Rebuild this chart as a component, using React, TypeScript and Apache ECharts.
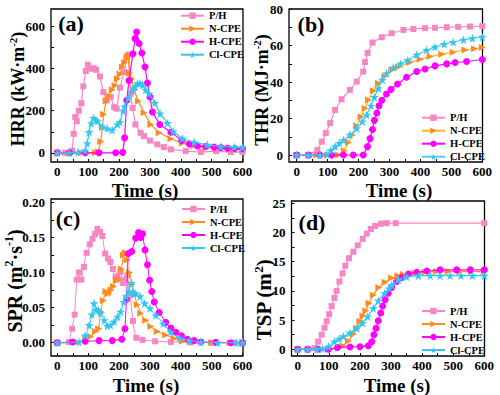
import React, { useEffect, useRef } from 'react';
import * as echarts from 'echarts';

const seriesNames = ['P/H', 'N-CPE', 'H-CPE', 'Cl-CPE'];
const timeTicks = [0, 50, 100, 150, 200, 250, 300, 350, 400, 450, 500, 550, 600];
const timeLabels = [0, 100, 200, 300, 400, 500, 600];
const hrrTicks = [0, 100, 200, 300, 400, 500, 600];
const hrrLabels = [0, 200, 400, 600];
const thrTicks = [0, 10, 20, 30, 40, 50, 60, 70, 80];
const thrLabels = [0, 20, 40, 60, 80];
const sprTicks = [0, 0.025, 0.05, 0.075, 0.1, 0.125, 0.15, 0.175, 0.2];
const sprLabels = [0, 0.05, 0.1, 0.15, 0.2];
const tspTicks = [0, 2.5, 5, 7.5, 10, 12.5, 15, 17.5, 20, 22.5, 25];
const tspLabels = [0, 5, 10, 15, 20, 25];

// (a) HRR
const phHrr = [[0,0],[25,0],[48,10],[53,90],[58,170],[63,150],[70,200],[78,236],[84,316],[92,389],[99,419],[108,400],[118,402],[126,395],[138,363],[149,289],[160,249],[173,265],[184,217],[192,210],[203,310],[216,384],[227,460],[232,467],[238,281],[244,213],[253,135],[270,95],[281,79],[300,58],[324,40],[345,27],[368,16],[416,8],[465,3],[514,8],[562,3],[600,3]];
const nHrr = [[0,0],[40,0],[80,0],[124,0],[132,5],[141,54],[146,120],[150,183],[158,246],[168,270],[178,300],[187,320],[195,352],[203,375],[211,408],[218,430],[225,448],[229,462],[234,380],[241,352],[249,297],[263,245],[281,190],[303,135],[330,95],[368,67],[405,45],[443,33],[486,25],[530,20],[573,17],[600,15]];
const hHrr = [[0,0],[40,0],[90,0],[135,0],[189,0],[212,2],[218,71],[225,250],[232,344],[245,471],[252,543],[257,575],[265,520],[274,475],[284,408],[292,332],[300,265],[308,194],[332,135],[368,98],[403,59],[428,42],[454,32],[480,30],[508,27],[530,25],[551,22],[575,20],[600,19]];
const clHrr = [[0,0],[38,0],[67,2],[90,10],[97,45],[103,98],[110,140],[117,165],[124,155],[130,150],[146,125],[162,115],[178,108],[195,135],[203,146],[213,200],[218,220],[230,260],[243,297],[252,315],[260,330],[268,330],[276,322],[286,300],[297,281],[316,237],[333,186],[357,141],[376,102],[405,67],[443,51],[486,38],[530,30],[573,27],[600,25]];

// (b) THR
const phThr = [[0,0],[38,0],[67,2.7],[81,7.3],[94,12],[108,17.5],[124,24.7],[145,30.6],[172,35.7],[194,40.3],[215,45.8],[221,51],[229,56],[245,61.7],[275,64.6],[307,66.8],[345,68.6],[377,69.1],[415,69.6],[447,69.8],[485,70.1],[522,70.3],[560,70.5],[600,70.7]];
const nThr = [[0,0],[65,0],[100,0],[135,0],[154,2.4],[167,6.8],[180,11],[194,16],[208,21],[221,25.6],[232,30.2],[248,35.3],[264,39.4],[285,43.2],[307,46.5],[329,48.3],[366,50.8],[399,52.5],[431,54],[469,55.3],[506,56.4],[544,57.6],[575,58.3],[600,59]];
const hThr = [[0,0],[38,0],[75,0],[113,0],[151,0],[183,0],[215,0],[229,4.6],[237,9],[245,14],[251,19],[259,23],[266,27],[275,30],[290,33.5],[305,36],[326,39],[355,42.7],[388,45.8],[415,47.2],[447,48.9],[485,50],[512,50.7],[549,51.3],[600,52.4]];
const clThr = [[0,0],[38,0],[75,0],[97,0.4],[110,2.5],[124,4.6],[138,6.5],[151,8.2],[172,11],[194,14.6],[212,18.3],[226,22],[240,27],[251,31.7],[264,36.6],[277,41.2],[291,44.8],[312,48],[335,50],[359,52],[388,55],[420,57.5],[447,59.3],[477,60.8],[506,62],[539,63.2],[568,64],[600,64.8]];

// (c) SPR
const phSpr = [[0,0],[20,0],[38,0.001],[43,0.012],[48,0.02],[52,0.03],[56,0.04],[60,0.07],[63,0.09],[66,0.095],[70,0.1],[74,0.085],[78,0.09],[82,0.1],[86,0.108],[90,0.12],[95,0.128],[100,0.127],[105,0.14],[110,0.15],[114,0.148],[118,0.152],[122,0.155],[126,0.15],[130,0.162],[134,0.155],[138,0.158],[142,0.15],[146,0.152],[150,0.14],[155,0.127],[160,0.13],[164,0.12],[168,0.113],[172,0.115],[176,0.102],[180,0.105],[185,0.095],[189,0.094],[193,0.1],[197,0.09],[201,0.1],[205,0.101],[209,0.093],[213,0.085],[216,0.082],[220,0.09],[224,0.1],[227,0.096],[231,0.085],[235,0.07],[240,0.05],[245,0.031],[250,0.015],[256,0.007],[265,0.005],[276,0.004],[295,0.003],[317,0.002],[340,0.0015],[368,0.001],[400,0.001],[430,0.0005],[465,0],[500,0],[550,0],[575,0],[600,0]];
const nSpr = [[0,0],[30,0],[65,0.001],[80,0.003],[92,0.005],[100,0.007],[108,0.009],[116,0.012],[124,0.016],[130,0.017],[134,0.02],[138,0.035],[141,0.044],[145,0.055],[149,0.06],[153,0.068],[157,0.073],[162,0.075],[166,0.07],[170,0.066],[174,0.075],[178,0.083],[182,0.08],[186,0.087],[191,0.089],[195,0.092],[199,0.09],[203,0.099],[207,0.105],[211,0.115],[214,0.125],[217,0.132],[220,0.128],[223,0.122],[226,0.118],[230,0.099],[234,0.1],[238,0.092],[242,0.083],[246,0.075],[250,0.068],[255,0.06],[259,0.054],[265,0.048],[270,0.042],[278,0.036],[286,0.032],[295,0.027],[303,0.023],[313,0.019],[324,0.016],[338,0.013],[351,0.011],[362,0.009],[378,0.006],[392,0.004],[405,0.002],[425,0.0015],[443,0.001],[470,0.0005],[500,0],[530,0],[560,0],[580,0],[600,0]];
const hSpr = [[0,0],[49,0.001],[90,0.002],[135,0.003],[178,0.003],[209,0.005],[219,0.02],[224,0.062],[230,0.127],[241,0.13],[254,0.149],[263,0.157],[270,0.15],[276,0.155],[284,0.132],[292,0.111],[299,0.089],[306,0.073],[314,0.058],[330,0.043],[351,0.029],[368,0.021],[384,0.015],[402,0.01],[422,0.005],[443,0.003],[465,0.001],[514,0.0005],[562,0],[600,0]];
const clSpr = [[0,0],[40,0],[70,0.001],[81,0.004],[90,0.01],[97,0.016],[103,0.025],[108,0.031],[112,0.04],[116,0.05],[119,0.056],[122,0.052],[124,0.047],[128,0.05],[132,0.047],[135,0.049],[140,0.042],[146,0.037],[152,0.032],[157,0.028],[162,0.024],[167,0.026],[172,0.025],[178,0.028],[184,0.03],[189,0.034],[195,0.037],[200,0.039],[205,0.044],[211,0.049],[215,0.058],[219,0.068],[223,0.066],[227,0.07],[232,0.073],[236,0.08],[240,0.085],[243,0.078],[246,0.07],[250,0.075],[254,0.07],[260,0.068],[268,0.066],[275,0.06],[283,0.056],[292,0.052],[300,0.049],[310,0.044],[319,0.039],[330,0.034],[343,0.027],[357,0.02],[367,0.015],[378,0.011],[395,0.007],[405,0.005],[427,0.003],[445,0.002],[465,0.001],[490,0.0005],[520,0],[555,0],[580,0],[600,0]];

// (d) TSP
const phTsp = [[0,0],[32,0],[54,0.2],[66,1.3],[77,2.5],[86,3.7],[93,4.8],[101,6],[109,7.4],[118,8.8],[125,10],[134,11.6],[144,13],[153,14.3],[165,15.6],[179,16.7],[193,17.8],[209,18.9],[222,19.8],[235,20.6],[249,21.1],[268,21.5],[286,21.6],[315,21.6],[600,21.6]];
const nTsp = [[0,0],[34,0],[69,0],[99,0],[131,0.2],[145,0.6],[163,1.4],[179,2.6],[190,3.6],[200,4.8],[210,5.7],[219,6.6],[229,7.9],[243,9.3],[261,10.6],[281,11.5],[302,12.2],[322,12.6],[340,12.8],[377,13],[409,13.2],[447,13.3],[484,13.3],[522,13.3],[559,13.3],[600,13.3]];
const hTsp = [[0,0],[32,0],[66,0],[99,0],[128,0.3],[168,0.4],[200,0.45],[227,0.6],[238,1.3],[245,2.5],[252,3.6],[259,4.9],[267,6.2],[273,7.4],[281,8.5],[291,9.6],[302,10.6],[318,11.6],[334,12.3],[356,12.9],[383,13.2],[415,13.4],[458,13.6],[511,13.6],[555,13.6],[600,13.6]];
const clTsp = [[0,0],[32,0],[61,0],[80,0.1],[99,0.46],[118,1.3],[133,1.8],[147,2.2],[168,2.8],[190,3.6],[208,4.5],[225,5.6],[243,7],[259,8.3],[279,9.6],[294,10.4],[302,11],[324,11.9],[350,12.4],[388,12.6],[426,12.6],[458,12.6],[490,12.6],[525,12.6],[562,12.6],[600,12.6]];

const FONT = '"Times New Roman", "Liberation Serif", serif';
const COLORS = ['#F886C4', '#FF8A1E', '#FF00FF', '#33C6F4'];
const SYMBOLS = ['rect', 'triangle', 'circle', 'path://M50,2 L61,36 L97,36 L68,57 L79,92 L50,71 L21,92 L32,57 L3,36 L39,36 Z'];
const ROTATE = [0, -90, 0, 0];
const SIZES = [6, 7, 7, 9];

export default function App() {
  const ref = useRef<HTMLDivElement>(null);
  useEffect(() => {
    if (!ref.current) return;
    const chart = echarts.init(ref.current, undefined, { renderer: 'svg' });

    const grids = [
      { left: 51, top: 9, width: 192, height: 153 },
      { left: 289, top: 9, width: 193.5, height: 153 },
      { left: 51, top: 199, width: 192, height: 157 },
      { left: 291.5, top: 201, width: 193, height: 155 },
    ];
    const xRanges = [[-20.5, 601.5], [-25, 600.6], [-20.5, 601.5], [-20, 600.6]];
    const yRanges = [[-43.8, 684], [-3.84, 80.1], [-0.0189, 0.2047], [-1.147, 25.39]];
    const yTicks = [hrrTicks, thrTicks, sprTicks, tspTicks];
    const yLabels = [hrrLabels, thrLabels, sprLabels, tspLabels];
    const panelData = [
      [phHrr, nHrr, hHrr, clHrr],
      [phThr, nThr, hThr, clThr],
      [phSpr, nSpr, hSpr, clSpr],
      [phTsp, nTsp, hTsp, clTsp],
    ];
    const markEvery = [[1, 1, 1, 1], [1, 1, 1, 1], [2, 2, 1, 2], [1, 1, 1, 1]];
    const lineColors = [
      COLORS,
      [COLORS[0], '#FFB326', COLORS[2], '#4FCEF5'],
      COLORS,
      COLORS,
    ];

    const labelStyle = { fontSize: 13, fontWeight: 'bold', fontFamily: FONT, color: '#000' };

    const xAxis = grids.map((_, g) => ({
      type: 'value', gridIndex: g, min: xRanges[g][0], max: xRanges[g][1],
      axisLine: { show: false, onZero: false },
      axisTick: { show: true, inside: true, length: 3, customValues: timeTicks, lineStyle: { color: '#000', width: 1 } },
      axisLabel: { ...labelStyle, margin: 3, lineHeight: 13, customValues: timeLabels },
      splitLine: { show: false },
    }));
    const yAxis = grids.map((_, g) => ({
      type: 'value', gridIndex: g, min: yRanges[g][0], max: yRanges[g][1],
      axisLine: { show: false, onZero: false },
      axisTick: { show: true, inside: true, length: 3, customValues: yTicks[g], lineStyle: { color: '#000', width: 1 } },
      axisLabel: {
        ...labelStyle, margin: 6, customValues: yLabels[g],
        formatter: g === 2 ? (v: number) => v.toFixed(2) : (v: number) => String(v),
      },
      splitLine: { show: false },
    }));

    const series: any[] = [];
    panelData.forEach((sets, g) => {
      sets.forEach((data, i) => {
        const every = markEvery[g][i];
        series.push({
          type: 'line', name: seriesNames[i], xAxisIndex: g, yAxisIndex: g,
          data: data.map((p, k) => (k % every === 0 || k === data.length - 1) ? p : { value: p, symbol: 'none' }),
          symbol: SYMBOLS[i], symbolSize: SIZES[i], symbolRotate: ROTATE[i], showAllSymbol: true,
          lineStyle: { color: lineColors[g][i], width: g === 2 ? 1 : 1.2 },
          itemStyle: { color: COLORS[i] },
          clip: false, z: 2 + i,
        });
      });
    });

    const legendPos = [[180, 9.7], [421, 111.7], [181, 203], [421, 305]];
    const legend = legendPos.map((p, g) => ({
      left: p[0], top: p[1], orient: 'vertical', padding: 0,
      itemWidth: 23, itemHeight: 8, itemGap: 1, selectedMode: false,
      textStyle: { fontSize: 10.5, fontWeight: 'bold', fontFamily: FONT, color: '#000', lineHeight: 12 },
      data: seriesNames.map((n, i) => ({ name: n, lineStyle: { color: lineColors[g][i] } })),
    }));

    const rich = (big: number) => ({
      b: { fontSize: big, fontWeight: 'bold', fontFamily: FONT, fill: '#000', lineHeight: big + 4 },
      s: { fontSize: Math.round(big * 0.6), fontWeight: 'bold', fontFamily: FONT, fill: '#000', lineHeight: Math.round(big * 0.6), verticalAlign: 'top' },
    });
    const text = (x: number, y: number, t: string, size: number, rot = 0, r?: any, lh?: number) => ({
      type: 'text', x, y, rotation: rot,
      style: { text: t, fontSize: size, fontWeight: 'bold', fontFamily: FONT, fill: '#000', align: 'center', verticalAlign: 'middle', rich: r, lineHeight: lh },
    });
    const graphic = [
      text(71, 23, '(a)', 22), text(311, 24, '(b)', 22), text(68, 218, '(c)', 22), text(312, 222, '(d)', 22),
      text(145, 190.5, 'Time (s)', 19, 0, undefined, 18), text(399, 190.5, 'Time (s)', 19, 0, undefined, 18),
      text(146, 385, 'Time (s)', 19, 0, undefined, 18), text(397, 385, 'Time (s)', 19, 0, undefined, 18),
      text(18, 89, '{b|HRR (kW·m}{s|-2}{b|)}', 18, Math.PI / 2, rich(18)),
      text(262, 90, '{b|THR (MJ·m}{s|-2}{b|)}', 18, Math.PI / 2, rich(18)),
      text(15, 281, '{b|SPR (m}{s|2}{b|·s}{s|-1}{b|)}', 20, Math.PI / 2, rich(20)),
      text(264, 300, '{b|TSP (m}{s|2}{b|)}', 21, Math.PI / 2, rich(21)),
    ];

    chart.setOption({
      animation: false,
      backgroundColor: '#fff',
      grid: grids.map(g => ({ ...g, show: true, borderColor: '#000', borderWidth: 1.3, backgroundColor: 'transparent' })),
      xAxis, yAxis, series, legend, graphic,
    });
    return () => chart.dispose();
  }, []);
  return <div ref={ref} style={{ position: 'fixed', left: 0, top: 0, width: 500, height: 395, background: '#fff' }} />;
}
